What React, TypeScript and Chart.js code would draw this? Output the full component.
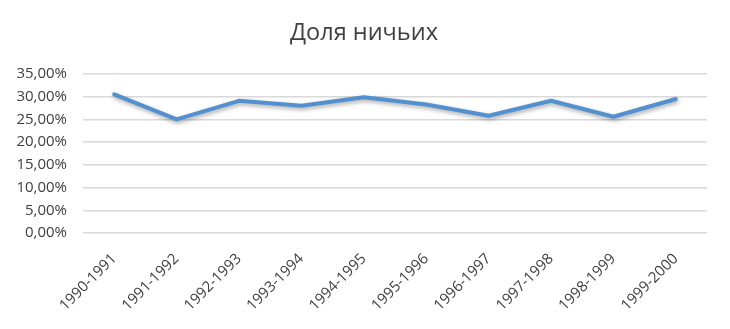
import React, { useEffect, useRef } from "react";
import { Chart, registerables } from "chart.js";

Chart.register(...registerables);

const titleText = "Доля ничьих";
const seasons = [
  "1990-1991",
  "1991-1992",
  "1992-1993",
  "1993-1994",
  "1994-1995",
  "1995-1996",
  "1996-1997",
  "1997-1998",
  "1998-1999",
  "1999-2000",
];
const drawShare = [30.5, 25.0, 29.1, 28.0, 29.9, 28.3, 25.8, 29.1, 25.6, 29.5];
const yMin = 0;
const yMax = 35;
const yStep = 5;

const FONT = "'Open Sans', 'DejaVu Sans', sans-serif";

const shadowPlugin = {
  id: "lineShadow",
  beforeDatasetsDraw(chart: any) {
    const ctx = chart.ctx;
    ctx.save();
    ctx.shadowColor = "rgba(0,0,0,0.35)";
    ctx.shadowBlur = 4;
    ctx.shadowOffsetX = 1;
    ctx.shadowOffsetY = 2;
  },
  afterDatasetsDraw(chart: any) {
    chart.ctx.restore();
  },
};

const titlePlugin = {
  id: "centeredTitle",
  afterDraw(chart: any) {
    const ctx = chart.ctx;
    ctx.save();
    ctx.font = `normal 23.5px ${FONT}`;
    ctx.fillStyle = "#404040";
    ctx.textAlign = "center";
    ctx.textBaseline = "middle";
    ctx.fillText(titleText, 364, 33);
    ctx.restore();
  },
};

export default function App() {
  const ref = useRef<HTMLCanvasElement | null>(null);

  useEffect(() => {
    if (!ref.current) return;
    const chart = new Chart(ref.current, {
      type: "line",
      data: {
        labels: seasons,
        datasets: [
          {
            data: drawShare,
            borderColor: "#5290CF",
            backgroundColor: "#5290CF",
            borderWidth: 4,
            pointRadius: 0,
            tension: 0,
            borderCapStyle: "round",
            borderJoinStyle: "round",
          },
        ],
      },
      options: {
        responsive: false,
        animation: false,
        devicePixelRatio: 1,
        layout: { padding: { left: 0, right: 23, top: 74, bottom: 0 } },
        plugins: {
          legend: { display: false },
          tooltip: { enabled: false },
          title: { display: false },
        },
        scales: {
          x: {
            offset: true,
            grid: { display: false },
            border: { display: false },
            ticks: {
              color: "#404040",
              font: { family: FONT, size: 15 },
              minRotation: 45,
              maxRotation: 45,
              autoSkip: false,
              padding: 9,
            },
            afterFit(scale: any) {
              scale.height = 96;
            },
          },
          y: {
            min: yMin,
            max: yMax,
            grid: { color: "#D9D9D9", lineWidth: 1.5, drawTicks: false },
            border: { display: false },
            ticks: {
              stepSize: yStep,
              color: "#404040",
              font: { family: FONT, size: 15 },
              padding: 16,
              callback: (v: any) => Number(v).toFixed(2).replace(".", ",") + "%",
            },
            afterFit(scale: any) {
              scale.width = 83;
            },
          },
        },
      },
      plugins: [shadowPlugin, titlePlugin],
    });
    return () => chart.destroy();
  }, []);

  return (
    <div style={{ position: "fixed", left: 0, top: 0, width: 730, height: 329, background: "#fff" }}>
      <canvas ref={ref} width={730} height={329} style={{ display: "block" }} />
    </div>
  );
}
